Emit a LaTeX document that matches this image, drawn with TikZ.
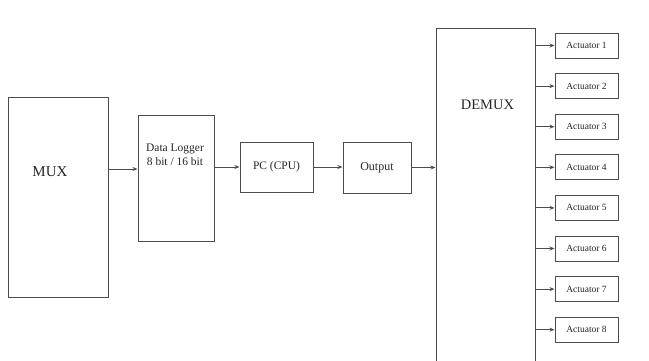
\documentclass[tikz,border=0pt]{standalone}
\usepackage{fontspec}
\setmainfont{Liberation Serif}
\usetikzlibrary{arrows.meta}
\begin{document}
\begin{tikzpicture}[x=1pt,y=-1pt,
  box/.style={draw=black!70, line width=1pt, inner sep=0pt, text=black!85},
  lbl/.style={text=black!85, inner sep=0pt},
  arr/.style={draw=black!70, line width=1pt, -{Stealth[length=5pt,width=4pt]}},
  act/.style={box, minimum width=63pt, minimum height=25pt, font=\fontsize{9.5}{11}\selectfont}]
\clip (0,0) rectangle (649,360);
\fill[white] (0,0) rectangle (649,360);
% MUX
\node[box, minimum width=100pt, minimum height=200pt] (mux) at (58,197) {};
\node[lbl, font=\fontsize{15}{16}\selectfont] (muxt) at (50,172) {MUX};
% Data logger
\node[box, minimum width=76pt, minimum height=126pt] (dl) at (176,178) {};
\node[lbl, align=center, font=\fontsize{11.5}{14.5}\selectfont] (dlt) at (175,155) {Data Logger\\8 bit / 16 bit};
% PC
\node[box, minimum width=73pt, minimum height=50pt, font=\fontsize{11.5}{13}\selectfont] (pc) at (276.5,167) {PC (CPU)};
% Output
\node[box, minimum width=68pt, minimum height=51pt, font=\fontsize{12}{13}\selectfont] (out) at (377,167.5) {Output};
% DEMUX
\node[box, minimum width=99pt, minimum height=340pt] (demux) at (485.5,198) {};
\node[lbl, font=\fontsize{14.5}{16}\selectfont] (demuxt) at (487.5,105) {DEMUX};
% Actuators
\foreach \i in {1,...,8} {
  \node[act] (a\i) at (586.5,{45.5+40.6*(\i-1)}) {Actuator \i};
  \draw[arr] (demux.east |- a\i.west) -- (a\i.west);
}
% connectors
\coordinate (c1) at (0,169);
\draw[arr] (mux.east |- c1) -- (dl.west |- c1);
\draw[arr] (dl.east |- pc.west) -- (pc.west);
\draw[arr] (pc.east) -- (out.west |- pc.east);
\draw[arr] (out.east) -- (demux.west |- out.east);
\end{tikzpicture}
\end{document}
